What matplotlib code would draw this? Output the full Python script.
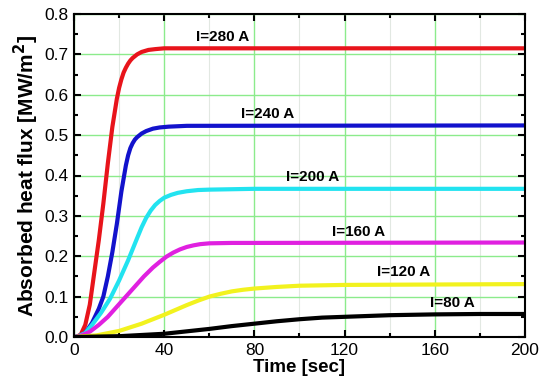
import matplotlib
matplotlib.use("Agg")
import matplotlib.pyplot as plt
from matplotlib.ticker import MultipleLocator

plt.rcParams['font.family'] = ['Liberation Sans', 'DejaVu Sans']

t_280 = [0, 1, 3, 5, 7, 9, 11, 13, 15, 17, 19, 20, 21, 22, 23, 24, 25, 26, 28, 30, 33, 36, 40, 60, 200]
q_280 = [0, 0.0, 0.006, 0.03, 0.08, 0.16, 0.24, 0.33, 0.43, 0.52, 0.59, 0.617, 0.638, 0.655, 0.667, 0.677, 0.685, 0.691, 0.700, 0.706, 0.711, 0.713, 0.715, 0.715, 0.715]

t_240 = [0, 2, 5, 8, 11, 13, 15, 17, 19, 21, 23, 24, 25, 26, 27, 28, 30, 32, 35, 38, 42, 50, 200]
q_240 = [0, 0.002, 0.01, 0.035, 0.07, 0.1, 0.15, 0.21, 0.28, 0.36, 0.425, 0.45, 0.468, 0.48, 0.489, 0.495, 0.504, 0.51, 0.516, 0.519, 0.521, 0.523, 0.524]

t_200 = [0, 2, 5, 8, 12, 16, 20, 24, 28, 30, 32, 34, 36, 38, 40, 43, 46, 50, 55, 60, 80, 200]
q_200 = [0, 0.002, 0.01, 0.03, 0.06, 0.095, 0.14, 0.19, 0.245, 0.272, 0.295, 0.313, 0.327, 0.337, 0.345, 0.352, 0.357, 0.361, 0.364, 0.365, 0.367, 0.367]

t_160 = [0, 3, 7, 11, 15, 19, 23, 27, 31, 35, 38, 41, 44, 47, 50, 53, 56, 60, 70, 80, 200]
q_160 = [0, 0.003, 0.013, 0.03, 0.05, 0.075, 0.1, 0.125, 0.15, 0.172, 0.186, 0.199, 0.209, 0.217, 0.223, 0.227, 0.23, 0.232, 0.233, 0.233, 0.234]

t_120 = [0, 10, 20, 30, 40, 50, 55, 60, 65, 70, 75, 80, 90, 100, 120, 160, 200]
q_120 = [0, 0.004, 0.015, 0.033, 0.055, 0.079, 0.09, 0.1, 0.107, 0.113, 0.117, 0.12, 0.124, 0.127, 0.129, 0.13, 0.131]

t_80 = [0, 20, 40, 50, 60, 70, 80, 90, 100, 110, 120, 140, 160, 180, 200]
q_80 = [0, 0.002, 0.008, 0.014, 0.02, 0.027, 0.033, 0.039, 0.044, 0.048, 0.05, 0.054, 0.056, 0.057, 0.057]

labels = ["I=280 A", "I=240 A", "I=200 A", "I=160 A", "I=120 A", "I=80 A"]
label_x = [66, 86, 106, 126, 146, 168]
label_y = [0.743, 0.552, 0.396, 0.261, 0.162, 0.083]

series = [(t_280, q_280), (t_240, q_240), (t_200, q_200), (t_160, q_160), (t_120, q_120), (t_80, q_80)]
colors = ['#E8141B', '#1212CC', '#22E3F0', '#E020E0', '#F2F21E', '#000000']

fig = plt.figure(figsize=(5.41, 3.90), dpi=100)
ax = fig.add_axes([0.1368, 0.1359, 0.8336, 0.8282])

ax.set_xlim(0, 200)
ax.set_ylim(0, 0.8)
ax.xaxis.set_major_locator(MultipleLocator(40))
ax.xaxis.set_minor_locator(MultipleLocator(20))
ax.yaxis.set_major_locator(MultipleLocator(0.1))
ax.yaxis.set_minor_locator(MultipleLocator(0.05))
ax.yaxis.set_major_formatter(matplotlib.ticker.FormatStrFormatter('%.1f'))

ax.grid(True, which='major', color='#8CEB8C', lw=1.0)
ax.grid(True, which='minor', axis='x', color='#E2E8E2', lw=0.8)
ax.set_axisbelow(True)

for (t, q), c in zip(series, colors):
    ax.plot(t, q, color=c, lw=3.0, solid_capstyle='butt', solid_joinstyle='round')

for s, x, y in zip(labels, label_x, label_y):
    ax.text(x, y, s, ha='center', va='center', fontsize=11, fontweight='bold')

ax.tick_params(which='both', direction='in', top=True, right=True, width=1.5)
ax.tick_params(which='major', length=5, labelsize=12.5, pad=4)
ax.tick_params(which='minor', length=3)
for sp in ax.spines.values():
    sp.set_linewidth(1.5)

ax.set_xlabel('Time [sec]', fontsize=13.5, fontweight='bold', labelpad=1)
ax.set_ylabel('Absorbed heat flux [MW/m$^\\mathbf{2}$]', fontsize=15, fontweight='bold', labelpad=2)

fig.savefig('out.png', dpi=100)
